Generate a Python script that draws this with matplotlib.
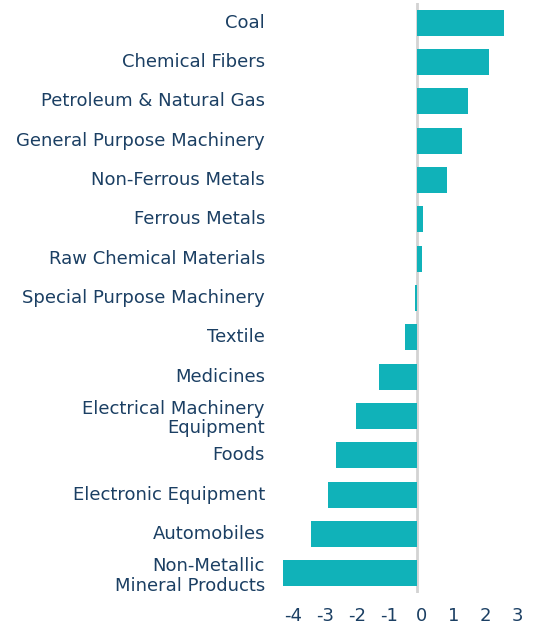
import matplotlib
matplotlib.use("Agg")
import matplotlib.pyplot as plt
import matplotlib.transforms as mtransforms

categories = [
    "Coal", "Chemical Fibers", "Petroleum & Natural Gas", "General Purpose Machinery",
    "Non-Ferrous Metals", "Ferrous Metals", "Raw Chemical Materials",
    "Special Purpose Machinery", "Textile", "Medicines",
    "Electrical Machinery\nEquipment", "Foods", "Electronic Equipment",
    "Automobiles", "Non-Metallic\nMineral Products",
]
values = [2.72, 2.24, 1.58, 1.39, 0.92, 0.18, 0.15, -0.07, -0.39, -1.19,
          -1.91, -2.53, -2.79, -3.34, -4.20]
xticks = [-4, -3, -2, -1, 0, 1, 2, 3]

plt.rcParams['axes.unicode_minus'] = False
plt.rcParams['font.family'] = ['DejaVu Sans']

text_color = "#1b3f63"
bar_color = "#10b2b9"

W, H = 539, 625
fig = plt.figure(figsize=(W / 100, H / 100), dpi=100)
x0, x1 = 283, 525
y_top, y_bot = 3, 593
ax = fig.add_axes([x0 / W, 1 - y_bot / H, (x1 - x0) / W, (y_bot - y_top) / H])

ypos = list(range(len(categories)))
ax.barh(ypos, values, height=0.66, color=bar_color, zorder=2)
ax.axvline(0, color="#d3d3d3", linewidth=2, zorder=1)

ax.set_xlim(-4.2, (x1 - 417.3) / 32.0)
ax.set_ylim(len(categories) - 0.5, -0.5)
ax.set_yticks(ypos)
ax.set_yticklabels(categories, fontsize=13, color=text_color)
ax.set_xticks(xticks)
ax.set_xticklabels([str(t) for t in xticks], fontsize=13, color=text_color)
ax.tick_params(axis="y", length=0, pad=13)
ax.tick_params(axis="x", length=0, pad=10)
xoff = mtransforms.ScaledTranslation(4 / 100, 0, fig.dpi_scale_trans)
for lbl in ax.get_xticklabels():
    lbl.set_transform(lbl.get_transform() + xoff)
yoff = mtransforms.ScaledTranslation(0, 2 / 100, fig.dpi_scale_trans)
for lbl in ax.get_yticklabels():
    if "\n" in lbl.get_text():
        lbl.set_linespacing(1.1)
    else:
        lbl.set_transform(lbl.get_transform() + yoff)
for s in ax.spines.values():
    s.set_visible(False)

fig.savefig("out.png", dpi=100)
